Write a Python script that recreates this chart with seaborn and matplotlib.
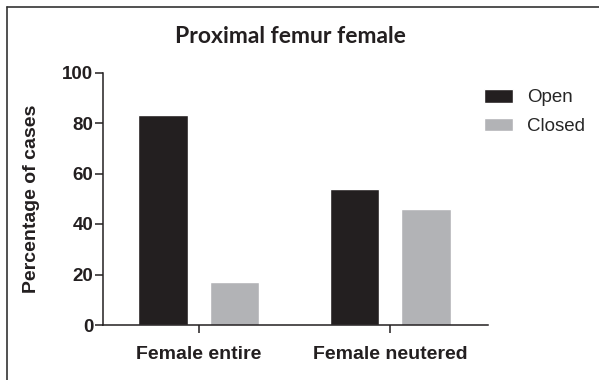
import pandas as pd
import matplotlib
matplotlib.use('Agg')
import matplotlib.pyplot as plt
from matplotlib.lines import Line2D
import seaborn as sns

groups = ['Female entire', 'Female neutered']
status = ['Open', 'Closed']
open_pct = [83, 54]
closed_pct = [17, 46]

df = pd.DataFrame({
    'group': groups * 2,
    'status': ['Open'] * 2 + ['Closed'] * 2,
    'pct': open_pct + closed_pct,
})

sns.set_style('ticks')
plt.rcParams['font.family'] = ['Liberation Sans', 'DejaVu Sans']
dark = '#231F20'
grey = '#B2B3B6'

fig = plt.figure(figsize=(5.99, 3.80), dpi=100)
ax = fig.add_axes([103 / 599, 55 / 380, 385 / 599, 252.5 / 380])

sns.barplot(data=df, x='group', y='pct', hue='status', hue_order=status,
            palette=[dark, grey], width=0.75, gap=0.31, saturation=1,
            order=groups, ax=ax)

ax.set_ylim(0, 100)
ax.set_xlim(-0.5, 1.51)
ax.set_yticks([0, 20, 40, 60, 80, 100])
ax.set_xlabel('')
ax.set_ylabel('Percentage of cases', fontsize=14, fontweight='bold', labelpad=16)
sns.despine(ax=ax)
for s in ['left', 'bottom']:
    ax.spines[s].set_linewidth(1.1)
    ax.spines[s].set_color(dark)
ax.tick_params(axis='y', length=6, width=1.1, color=dark, pad=1, labelsize=13.5)
ax.tick_params(axis='x', length=6, width=1.1, color=dark, pad=9, labelsize=14)
for lab in ax.get_xticklabels() + ax.get_yticklabels():
    lab.set_fontweight('bold')
    lab.set_color(dark)
ax.yaxis.label.set_color(dark)

sns.move_legend(ax, 'upper left', bbox_to_anchor=(484 / 599, 1 - 89 / 380),
                bbox_transform=fig.transFigure, frameon=False, title=None,
                fontsize=13.5, handlelength=1.55, handleheight=0.75,
                handletextpad=0.75, labelspacing=0.6, borderpad=0,
                borderaxespad=0)

fig.text(290 / 599, 1 - 43 / 380, 'Proximal femur female', ha='center',
         va='baseline', fontsize=16.5, fontweight='bold', family=['Lato', 'DejaVu Sans'],
         color=dark)

# frame around the figure (top and left edges visible)
fig.add_artist(Line2D([7 / 599, 7 / 599], [0, 1 - 7 / 380], transform=fig.transFigure,
                      color='#333333', lw=1.2))
fig.add_artist(Line2D([7 / 599, 1], [1 - 7 / 380, 1 - 7 / 380], transform=fig.transFigure,
                      color='#333333', lw=1.2))

fig.savefig('out.png', dpi=100)
